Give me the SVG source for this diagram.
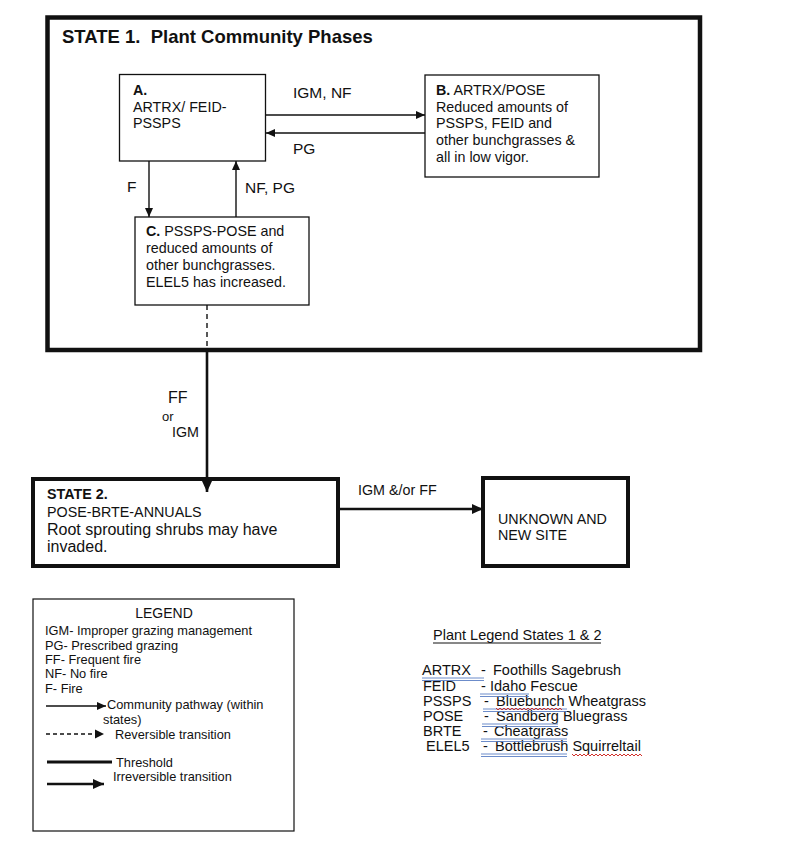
<svg xmlns="http://www.w3.org/2000/svg" width="800" height="850" viewBox="0 0 800 850">
<defs>
<style>
text{font-family:"Liberation Sans",Arial,sans-serif;fill:#111}
.t{font-size:14.3px}
.lbl{font-size:15.5px}
.lg{font-size:12.8px}
.pl{font-size:14.5px}
.b{font-weight:bold}
.box{fill:#fff;stroke:#111;stroke-width:1.3}
.heavy{fill:#fff;stroke:#111;stroke-width:4.5}
.thin{stroke:#111;stroke-width:1.4;fill:none}
.thick{stroke:#111;stroke-width:2.6;fill:none}
.blu{stroke:#5b7fc4;stroke-width:0.9;fill:none}
.red{stroke:#d0302a;stroke-width:1;fill:none}
</style>
<marker id="ah" markerUnits="userSpaceOnUse" markerWidth="10" markerHeight="10" viewBox="0 0 10 10" refX="9" refY="5" orient="auto">
<path d="M0,1 L9,5 L0,9 Z" fill="#111"/>
</marker>
<marker id="ahb" markerUnits="userSpaceOnUse" markerWidth="12" markerHeight="12" viewBox="0 0 12 12" refX="11" refY="6" orient="auto">
<path d="M0,1 L11,6 L0,11 Z" fill="#111"/>
</marker>
</defs>
<rect width="800" height="850" fill="#fff"/>

<g id="state1">
<rect class="heavy" x="47.5" y="17.5" width="652.5" height="332.5"/>
<text class="b" x="62" y="43" style="font-size:18.5px">STATE 1.&#160; Plant Community Phases</text>
</g>

<g id="phaseA">
<rect class="box" x="119.5" y="74.5" width="146" height="86.5"/>
<text class="t b" x="133" y="95">A.</text>
<text class="t" x="133" y="112">ARTRX/ FEID-</text>
<text class="t" x="133" y="128">PSSPS</text>
</g>

<g id="phaseB">
<rect class="box" x="425" y="75" width="174" height="102"/>
<text class="t" x="436" y="95"><tspan class="b">B.</tspan> ARTRX/POSE</text>
<text class="t" x="436" y="112">Reduced amounts of</text>
<text class="t" x="436" y="128">PSSPS, FEID and</text>
<text class="t" x="436" y="145">other bunchgrasses &amp;</text>
<text class="t" x="436" y="162">all in low vigor.</text>
</g>

<g id="phaseC">
<rect class="box" x="135" y="217" width="174" height="88"/>
<text class="t" x="146" y="236"><tspan class="b">C.</tspan> PSSPS-POSE and</text>
<text class="t" x="146" y="253">reduced amounts of</text>
<text class="t" x="146" y="270">other bunchgrasses.</text>
<text class="t" x="146" y="287">ELEL5 has increased.</text>
</g>

<g id="state2">
<rect class="heavy" x="33" y="479" width="305" height="87" style="stroke-width:4"/>
<text class="t b" x="47" y="499">STATE 2.</text>
<text class="t" x="47" y="517">POSE-BRTE-ANNUALS</text>
<text x="47" y="535" style="font-size:16px">Root sprouting shrubs may have</text>
<text x="47" y="552" style="font-size:16px">invaded.</text>
</g>

<g id="unknown">
<rect class="heavy" x="483" y="478" width="145" height="88" style="stroke-width:4"/>
<text class="t" x="498" y="524">UNKNOWN AND</text>
<text class="t" x="498" y="540">NEW SITE</text>
</g>

<g id="connectors">
<line class="thin" x1="266" y1="115" x2="425" y2="115" marker-end="url(#ah)"/>
<text class="lbl" x="293" y="98">IGM, NF</text>
<line class="thin" x1="425" y1="133" x2="266" y2="133" marker-end="url(#ah)"/>
<text class="lbl" x="293" y="154">PG</text>
<line class="thin" x1="149" y1="161" x2="149" y2="217" marker-end="url(#ah)"/>
<text class="lbl" x="127" y="192">F</text>
<line class="thin" x1="236" y1="217" x2="236" y2="161" marker-end="url(#ah)"/>
<text class="lbl" x="245" y="193">NF, PG</text>
<line class="thin" x1="207" y1="305" x2="207" y2="350" stroke-dasharray="5 4"/>
<line class="thick" x1="207" y1="350" x2="207" y2="492" marker-end="url(#ahb)"/>
<text x="168" y="403" style="font-size:16px">FF</text>
<text x="162" y="421" style="font-size:13px">or</text>
<text class="t" x="172" y="437">IGM</text>
<line class="thick" x1="338" y1="509" x2="483" y2="509" marker-end="url(#ahb)"/>
<text class="t" x="358" y="495">IGM &amp;/or FF</text>
</g>

<g id="legend">
<rect class="box" x="33" y="599" width="261" height="232" style="stroke-width:1.2"/>
<text class="lg" x="164" y="618" text-anchor="middle" style="font-size:14px">LEGEND</text>
<text class="lg" x="45" y="635">IGM- Improper grazing management</text>
<text class="lg" x="45" y="650">PG- Prescribed grazing</text>
<text class="lg" x="45" y="664">FF- Frequent fire</text>
<text class="lg" x="45" y="678">NF- No fire</text>
<text class="lg" x="45" y="693">F- Fire</text>
<line class="thin" x1="46" y1="706" x2="106" y2="706" stroke-width="1.1" marker-end="url(#ah)"/>
<text class="lg" x="107" y="709">Community pathway (within</text>
<text class="lg" x="103" y="724">states)</text>
<line class="thin" x1="46" y1="734" x2="96" y2="734" stroke-width="1.1" stroke-dasharray="4 3"/>
<path d="M95,729.5 L104,734 L95,738.5 Z" fill="#111"/>
<text class="lg" x="115" y="739">Reversible transition</text>
<line x1="47" y1="762" x2="112" y2="762" stroke="#111" stroke-width="3"/>
<text class="lg" x="116" y="767">Threshold</text>
<line class="thick" x1="47" y1="784" x2="104" y2="784" marker-end="url(#ahb)"/>
<text class="lg" x="113" y="781">Irreversible transition</text>
</g>

<g id="plant-legend">
<text class="pl" x="433" y="640">Plant Legend States 1 &amp; 2</text>
<line x1="433" y1="643" x2="601" y2="643" stroke="#111" stroke-width="1"/>
<text class="pl" x="422" y="675">ARTRX</text><text class="pl" x="481" y="675">-</text><text class="pl" x="493" y="675">Foothills Sagebrush</text>
<text class="pl" x="423" y="691">FEID</text><text class="pl" x="481" y="691">-</text><text class="pl" x="490" y="691">Idaho Fescue</text>
<text class="pl" x="423" y="706">PSSPS</text><text class="pl" x="484" y="706">-</text><text class="pl" x="496" y="706">Bluebunch Wheatgrass</text>
<text class="pl" x="423" y="721">POSE</text><text class="pl" x="484" y="721">-</text><text class="pl" x="496" y="721">Sandberg Bluegrass</text>
<text class="pl" x="423" y="736">BRTE</text><text class="pl" x="483" y="736">-</text><text class="pl" x="494" y="736">Cheatgrass</text>
<text class="pl" x="426" y="751">ELEL5</text><text class="pl" x="483" y="751">-</text><text class="pl" x="495" y="751">Bottlebrush Squirreltail</text>
<path class="blu" d="M422,678H484M422,680.5H484M480,694H529M480,696.5H529M483,709H567M483,711.5H567M482,724H558M482,726.5H558M481,739H567M481,741.5H567M481,754H567M481,756.5H567"/>
<path class="red" d="M496,708l2,2l2,-2l2,2l2,-2l2,2l2,-2l2,2l2,-2l2,2l2,-2l2,2l2,-2l2,2l2,-2l2,2l2,-2l2,2l2,-2l2,2l2,-2l2,2l2,-2l2,2l2,-2l2,2l2,-2l2,2l2,-2l2,2l2,-2l2,2l2,-2l2,2M572,754l2,2l2,-2l2,2l2,-2l2,2l2,-2l2,2l2,-2l2,2l2,-2l2,2l2,-2l2,2l2,-2l2,2l2,-2l2,2l2,-2l2,2l2,-2l2,2l2,-2l2,2l2,-2l2,2l2,-2l2,2l2,-2l2,2l2,-2l2,2l2,-2l2,2l2,-2l2,2"/>
</g>
</svg>
